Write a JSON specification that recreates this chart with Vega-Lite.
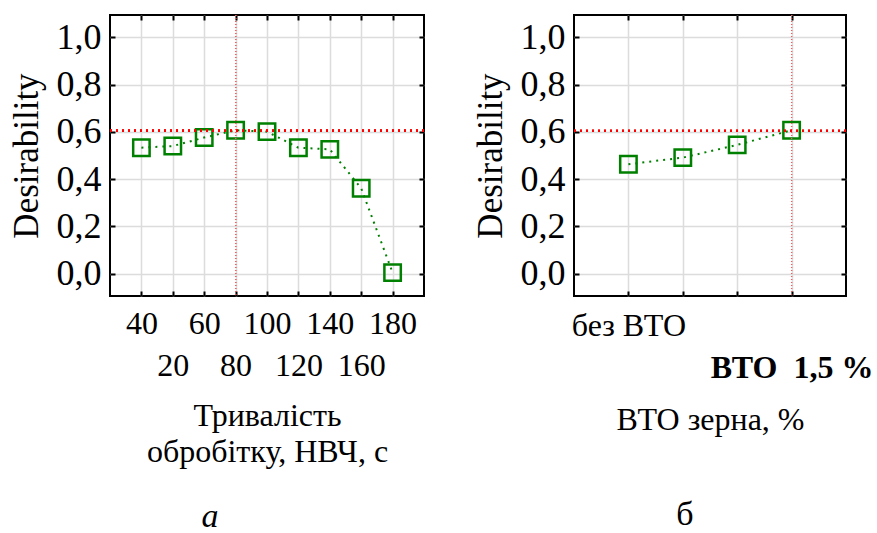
{
  "$schema": "https://vega.github.io/schema/vega-lite/v6.json",
  "padding": {"left": 8, "top": 13, "right": 0, "bottom": 0},
  "spacing": 46,
  "config": {
    "font": "Liberation Serif",
    "view": {"stroke": "black", "strokeWidth": 2},
    "style": {
      "guide-label": {"font": "Liberation Serif", "fontSize": 32, "fill": "black"},
      "guide-title": {"font": "Liberation Serif", "fontSize": 32, "fill": "black", "fontWeight": "normal"},
      "group-title": {"font": "Liberation Serif", "fontSize": 34, "fill": "black", "fontWeight": "normal"}
    },
    "axis": {
      "labelFont": "Liberation Serif", "titleFont": "Liberation Serif",
      "labelFontSize": 32, "titleFontSize": 32, "labelColor": "black", "titleColor": "black",
      "titleFontWeight": "normal", "gridColor": "#dcdcdc", "gridWidth": 1.5,
      "tickColor": "black", "tickWidth": 2, "tickSize": -5, "domain": false,
      "labelOverlap": false, "labelBound": false, "labelFlush": false
    },
    "title": {"font": "Liberation Serif", "fontSize": 34, "fontWeight": "normal", "color": "black"}
  },
  "hconcat": [
    {
      "width": 314, "height": 281,
      "title": {"text": "а", "orient": "bottom", "fontStyle": "italic", "dx": -57, "offset": 33},
      "data": {"values": [
        {"t": "40", "d": 0.533}, {"t": "20", "d": 0.540}, {"t": "60", "d": 0.576},
        {"t": "80", "d": 0.607}, {"t": "100", "d": 0.601}, {"t": "120", "d": 0.533},
        {"t": "140", "d": 0.526}, {"t": "160", "d": 0.361}, {"t": "180", "d": 0.004}
      ]},
      "resolve": {"axis": {"x": "independent", "y": "independent"}},
      "layer": [
        {
          "mark": {"type": "point", "shape": "square", "filled": false, "color": "#008000", "strokeWidth": 2.5, "size": 270, "opacity": 1},
          "encoding": {
            "x": {"field": "t", "type": "ordinal", "sort": null,
              "scale": {"type": "point", "padding": 1, "domain": ["40", "20", "60", "80", "100", "120", "140", "160", "180"]},
              "axis": {"orient": "bottom", "grid": true, "labelAngle": 0, "labelBaseline": "top",
                "labelFont": "Liberation Serif", "titleFont": "Liberation Serif",
                "labelPadding": {"condition": {"test": "indexof(['20','80','120','160'], datum.value) >= 0", "value": 59}, "value": 17},
                "title": ["Тривалість", "обробітку, НВЧ, с"], "titlePadding": 19, "titleLineHeight": 36}},
            "y": {"field": "d", "type": "quantitative",
              "scale": {"domain": [-0.095, 1.095], "nice": false, "zero": false},
              "axis": {"orient": "left", "grid": true, "values": [0, 0.2, 0.4, 0.6, 0.8, 1.0],
                "labelFont": "Liberation Serif", "titleFont": "Liberation Serif", "labelFontSize": 36,
                "labelExpr": "replace(format(datum.value, '.1f'), '.', ',')",
                "labelPadding": 14, "title": "Desirability", "titleFontSize": 35, "titlePadding": 12}}
          }
        },
        {
          "mark": {"type": "line", "color": "#008000", "strokeWidth": 2, "strokeDash": [2, 5]},
          "encoding": {
            "x": {"field": "t", "type": "ordinal", "sort": null, "axis": null},
            "y": {"field": "d", "type": "quantitative", "axis": null}
          }
        },
        {
          "mark": {"type": "rule", "color": "#ff5a5a", "strokeWidth": 1, "strokeDash": [1, 2]},
          "encoding": {"x": {"datum": "80", "type": "ordinal", "axis": {"orient": "top", "labels": false, "grid": false, "title": null}}}
        },
        {
          "mark": {"type": "rule", "color": "#ff0000", "strokeWidth": 2, "strokeDash": [2, 4]},
          "encoding": {"y": {"datum": 0.605, "type": "quantitative", "axis": {"orient": "right", "labels": false, "grid": false, "title": null, "values": [0, 0.2, 0.4, 0.6, 0.8, 1.0]}}}
        }
      ]
    },
    {
      "width": 272, "height": 281,
      "title": {"text": "б", "orient": "bottom", "dx": -25, "offset": 63},
      "data": {"values": [
        {"v": "без ВТО", "d": 0.463}, {"v": "ВТО 0,5 %", "d": 0.491},
        {"v": "ВТО 1,0 %", "d": 0.545}, {"v": "ВТО 1,5 %", "d": 0.607}
      ]},
      "resolve": {"axis": {"x": "independent", "y": "independent"}},
      "layer": [
        {
          "mark": {"type": "point", "shape": "square", "filled": false, "color": "#008000", "strokeWidth": 2.5, "size": 270, "opacity": 1},
          "encoding": {
            "x": {"field": "v", "type": "ordinal", "sort": null,
              "scale": {"type": "point", "padding": 1, "domain": ["без ВТО", "ВТО 0,5 %", "ВТО 1,0 %", "ВТО 1,5 %"]},
              "axis": {"orient": "bottom", "grid": true, "labelAngle": 0, "labelBaseline": "top",
                "labelFont": "Liberation Serif", "titleFont": "Liberation Serif",
                "labelExpr": "datum.value == 'ВТО 1,5 %' ? 'ВТО\u00a0 1,5 %' : (datum.value == 'без ВТО' ? datum.value : '')",
                "labelFontWeight": {"condition": {"test": "datum.value == 'ВТО 1,5 %'", "value": "bold"}, "value": "normal"},
                "labelPadding": {"condition": {"test": "datum.value == 'ВТО 1,5 %'", "value": 61}, "value": 19},
                "title": "ВТО зерна, %", "titlePadding": 21}},
            "y": {"field": "d", "type": "quantitative",
              "scale": {"domain": [-0.095, 1.095], "nice": false, "zero": false},
              "axis": {"orient": "left", "grid": true, "values": [0, 0.2, 0.4, 0.6, 0.8, 1.0],
                "labelFont": "Liberation Serif", "titleFont": "Liberation Serif", "labelFontSize": 36,
                "labelExpr": "replace(format(datum.value, '.1f'), '.', ',')",
                "labelPadding": 14, "title": "Desirability", "titleFontSize": 35, "titlePadding": 12}}
          }
        },
        {
          "mark": {"type": "line", "color": "#008000", "strokeWidth": 2, "strokeDash": [2, 5]},
          "encoding": {
            "x": {"field": "v", "type": "ordinal", "sort": null, "axis": null},
            "y": {"field": "d", "type": "quantitative", "axis": null}
          }
        },
        {
          "mark": {"type": "rule", "color": "#ff5a5a", "strokeWidth": 1, "strokeDash": [1, 2]},
          "encoding": {"x": {"datum": "ВТО 1,5 %", "type": "ordinal", "axis": {"orient": "top", "labels": false, "grid": false, "title": null}}}
        },
        {
          "mark": {"type": "rule", "color": "#ff0000", "strokeWidth": 2, "strokeDash": [2, 4]},
          "encoding": {"y": {"datum": 0.605, "type": "quantitative", "axis": {"orient": "right", "labels": false, "grid": false, "title": null, "values": [0, 0.2, 0.4, 0.6, 0.8, 1.0]}}}
        }
      ]
    }
  ]
}
